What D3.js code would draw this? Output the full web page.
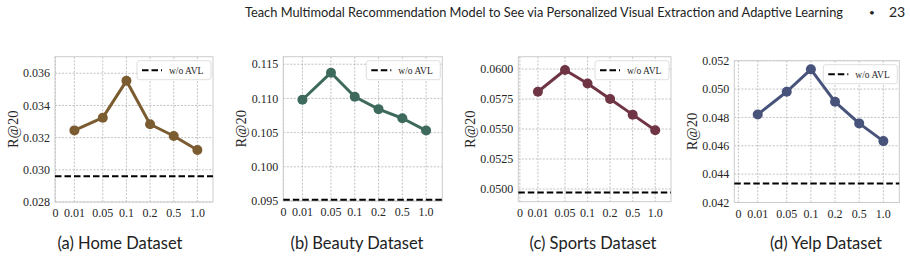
<!DOCTYPE html>
<html>
  <head>
    <meta charset="utf-8">
    <title>AVL sensitivity</title>
    <script src="https://cdn.jsdelivr.net/npm/d3@7"></script>
    <style>
      body { margin: 0; background: #fff; }
    </style>
  </head>
  <body>
    <svg width="910" height="261" id="mainsvg"></svg>
    <script>
        // @data
        const tickLabels = ["0", "0.01", "0.05", "0.1", "0.2", "0.5", "1.0"];
        const tickSlots = [0, 0.8, 2, 3, 4, 5, 6];   // where each label sits on the x axis
        const lambdas = ["0.01", "0.05", "0.1", "0.2", "0.5", "1.0"];

        const homeVals   = [0.03245, 0.03324, 0.03553, 0.03283, 0.03210, 0.03123];
        const beautyVals = [0.1098, 0.11376, 0.11024, 0.10843, 0.1071, 0.1053];
        const sportsVals = [0.05811, 0.05992, 0.0588, 0.0575, 0.0562, 0.0549];
        const yelpVals   = [0.04821, 0.04981, 0.05139, 0.0491, 0.04758, 0.04633];

        const baselines = [0.0296, 0.0952, 0.0497, 0.04334];

        const homeTicks   = ["0.028", "0.030", "0.032", "0.034", "0.036"];
        const beautyTicks = ["0.095", "0.100", "0.105", "0.110", "0.115"];
        const sportsTicks = ["0.0500", "0.0525", "0.0550", "0.0575", "0.0600"];
        const yelpTicks   = ["0.042", "0.044", "0.046", "0.048", "0.050", "0.052"];

        const captions = ["(a) Home Dataset", "(b) Beauty Dataset", "(c) Sports Dataset", "(d) Yelp Dataset"];

        const serif = '"Liberation Serif", "Times New Roman", serif';
        const sans = 'Lato, sans-serif';

        // @canvas
        const svg = d3.select('#mainsvg');

        svg.append('text')
            .attr('x', 245).attr('y', 17)
            .attr('textLength', 598).attr('lengthAdjust', 'spacingAndGlyphs')
            .style('font-family', sans).style('font-size', '13px').style('fill', '#222')
            .text('Teach Multimodal Recommendation Model to See via Personalized Visual Extraction and Adaptive Learning');
        svg.append('text')
            .attr('x', 872).attr('y', 16).attr('text-anchor', 'middle')
            .style('font-family', sans).style('font-size', '10px').style('fill', '#222')
            .text('•');
        svg.append('text')
            .attr('x', 889).attr('y', 17)
            .style('font-family', sans).style('font-size', '14px').style('fill', '#222')
            .text('23');

        const panels = [
            {vals: homeVals,   ticks: homeTicks,   yDom: [0.028, 0.03703], color: '#7b5c31',
             box: {l: 55, r: 213, t: 56.7, b: 202}, xDom: [-0.02, 6.66], cap: 120},
            {vals: beautyVals, ticks: beautyTicks, yDom: [0.095, 0.1161], color: '#3e6a5d',
             box: {l: 283.3, r: 442.3, t: 56.7, b: 201}, xDom: [-0.004, 6.68], cap: 357},
            {vals: sportsVals, ticks: sportsTicks, yDom: [0.04894, 0.06103], color: '#6f3545',
             box: {l: 518.3, r: 671, t: 56.7, b: 201.7}, xDom: [-0.07, 6.7], cap: 593},
            {vals: yelpVals,   ticks: yelpTicks,   yDom: [0.042, 0.052], color: '#47537a',
             box: {l: 734.3, r: 899.3, t: 60.7, b: 202.5}, xDom: [-0.17, 6.66], cap: 826}
        ];

        // @render
        const renderPanel = function(p, i){
            const x = d3.scaleLinear().domain(p.xDom).range([p.box.l, p.box.r]);
            const y = d3.scaleLinear().domain(p.yDom).range([p.box.b, p.box.t]);
            const g = svg.append('g').attr('class', 'panel');

            // grid
            g.selectAll('.vgrid').data(tickSlots).enter().append('line')
                .attr('x1', d => x(d)).attr('x2', d => x(d))
                .attr('y1', p.box.t).attr('y2', p.box.b)
                .attr('stroke', '#b3b3b3').attr('stroke-width', 0.8).attr('stroke-dasharray', '2,1.5');
            g.selectAll('.hgrid').data(p.ticks).enter().append('line')
                .attr('x1', p.box.l).attr('x2', p.box.r)
                .attr('y1', d => y(+d)).attr('y2', d => y(+d))
                .attr('stroke', '#b3b3b3').attr('stroke-width', 0.8).attr('stroke-dasharray', '2,1.5');

            // frame
            g.append('rect')
                .attr('x', p.box.l).attr('y', p.box.t)
                .attr('width', p.box.r - p.box.l).attr('height', p.box.b - p.box.t)
                .attr('fill', 'none').attr('stroke', '#cccccc').attr('stroke-width', 1);

            // tick labels
            const ylab = g.selectAll('.ylab').data(p.ticks).enter().append('text')
                .attr('x', p.box.l - 5).attr('y', d => y(+d)).attr('dy', '0.35em')
                .attr('text-anchor', 'end')
                .style('font-family', serif).style('font-size', '12px').style('fill', '#262626')
                .text(d => d);
            g.selectAll('.xlab').data(tickLabels).enter().append('text')
                .attr('x', (d, j) => x(tickSlots[j])).attr('y', p.box.b + 11).attr('dy', '0.35em')
                .attr('text-anchor', 'middle')
                .style('font-family', serif).style('font-size', '12px').style('fill', '#262626')
                .text(d => d);

            let minX = p.box.l;
            ylab.each(function(){ minX = Math.min(minX, this.getBBox().x); });
            g.append('text')
                .attr('transform', `translate(${minX - 10}, ${(p.box.t + p.box.b) / 2}) rotate(-90)`)
                .attr('text-anchor', 'middle').attr('dy', '0.35em')
                .style('font-family', serif).style('font-size', '14.5px').style('fill', '#262626')
                .text('R@20');

            // baseline w/o AVL
            g.append('line')
                .attr('x1', p.box.l).attr('x2', p.box.r)
                .attr('y1', y(baselines[i])).attr('y2', y(baselines[i]))
                .attr('stroke', '#000').attr('stroke-width', 2).attr('stroke-dasharray', '6.5,3');

            // series
            const pts = p.vals.map((v, j) => ({slot: tickSlots[lambdas.indexOf(tickLabels[j + 1]) + 1], v: v}));
            g.append('path')
                .datum(pts)
                .attr('fill', 'none').attr('stroke', p.color).attr('stroke-width', 3)
                .attr('stroke-linejoin', 'round')
                .attr('d', d3.line().x(d => x(d.slot)).y(d => y(d.v)));
            g.selectAll('.dot').data(pts).enter().append('circle')
                .attr('cx', d => x(d.slot)).attr('cy', d => y(d.v)).attr('r', 5)
                .attr('fill', p.color);

            // legend
            const lx = p.box.r - 76, ly = p.box.t + 4;
            g.append('rect')
                .attr('x', lx).attr('y', ly).attr('width', 74).attr('height', 19).attr('rx', 2.5)
                .attr('fill', 'rgba(255,255,255,0.85)').attr('stroke', '#d6d6d6').attr('stroke-width', 0.8);
            g.append('line')
                .attr('x1', lx + 5).attr('x2', lx + 25).attr('y1', ly + 9.5).attr('y2', ly + 9.5)
                .attr('stroke', '#000').attr('stroke-width', 2).attr('stroke-dasharray', '6.5,3');
            g.append('text')
                .attr('x', lx + 32).attr('y', ly + 9.5).attr('dy', '0.35em')
                .style('font-family', serif).style('font-size', '9.5px').style('fill', '#262626')
                .text('w/o AVL');

            // caption
            svg.append('text')
                .attr('x', p.cap).attr('y', 249).attr('text-anchor', 'middle')
                .style('font-family', sans).style('font-size', '16.5px').style('fill', '#222')
                .text(captions[i]);
        };

        panels.forEach(renderPanel);
    </script>
  </body>
</html>
